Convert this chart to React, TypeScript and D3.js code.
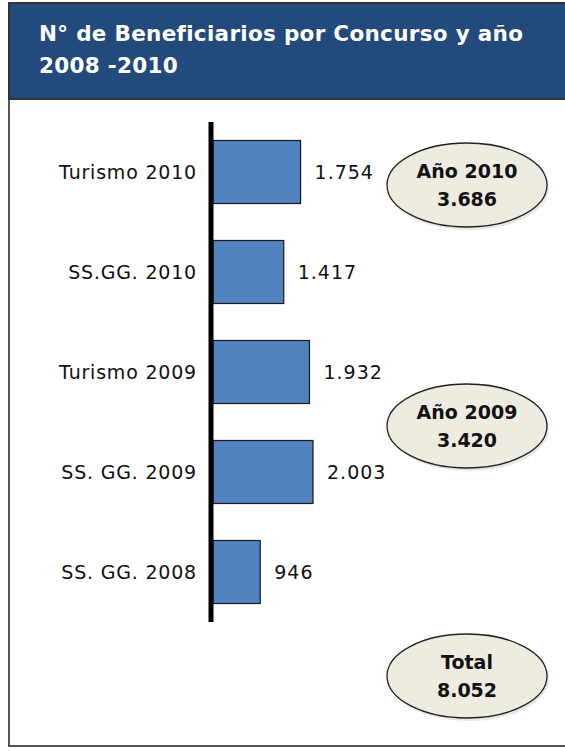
import React, { useRef, useEffect } from 'react';
import * as d3 from 'd3';

const CATEGORIES = ['Turismo 2010', 'SS.GG. 2010', 'Turismo 2009', 'SS. GG. 2009', 'SS. GG. 2008'];
const VALUES = [1754, 1417, 1932, 2003, 946];
const LABELS = ['1.754', '1.417', '1.932', '2.003', '946'];

const BUBBLE_TITLES = ['Año 2010', 'Año 2009', 'Total'];
const BUBBLE_VALUES = ['3.686', '3.420', '8.052'];

const W = 565;
const H = 751;
const FONT = 'DejaVu Sans, sans-serif';

const App: React.FC = () => {
  const svgRef = useRef<SVGSVGElement>(null);

  useEffect(() => {
    if (!svgRef.current) return;
    const svg = d3.select(svgRef.current);
    svg.selectAll('*').remove();

    // Frame
    svg.append('rect')
      .attr('x', 9).attr('y', 3).attr('width', W).attr('height', 743)
      .attr('fill', '#fff').attr('stroke', '#555').attr('stroke-width', 2);

    // Header
    svg.append('rect')
      .attr('x', 9).attr('y', 3).attr('width', W).attr('height', 96)
      .attr('fill', '#234a7c').attr('stroke', '#333').attr('stroke-width', 2);

    const title = svg.append('text')
      .attr('fill', '#fff')
      .attr('font-family', FONT)
      .attr('font-weight', 'bold')
      .attr('font-size', '21.5px')
      .attr('letter-spacing', '0.3px');
    title.append('tspan').attr('x', 39).attr('y', 41).text('N° de Beneficiarios por Concurso y año');
    title.append('tspan').attr('x', 39).attr('y', 73).text('2008 -2010');

    const x0 = 213;
    const x = d3.scaleLinear().domain([0, 2003]).range([x0, 313]);
    const y = d3.scaleBand().domain(CATEGORIES).range([122, 622]).paddingInner(0.37).paddingOuter(0.185);

    // Bars
    svg.selectAll('.bar')
      .data(VALUES)
      .join('rect')
      .attr('class', 'bar')
      .attr('x', x(0))
      .attr('y', (d, i) => y(CATEGORIES[i])!)
      .attr('width', d => x(d) - x(0))
      .attr('height', y.bandwidth())
      .attr('fill', '#4f81bd')
      .attr('stroke', '#1a1a1a')
      .attr('stroke-width', 1.2);

    // Axis line
    svg.append('line')
      .attr('x1', x0 - 2).attr('x2', x0 - 2)
      .attr('y1', 122).attr('y2', 622)
      .attr('stroke', '#000').attr('stroke-width', 5);

    // Category labels
    svg.selectAll('.cat')
      .data(CATEGORIES)
      .join('text')
      .attr('x', 197)
      .attr('y', d => y(d)! + y.bandwidth() / 2 + 7)
      .attr('text-anchor', 'end')
      .attr('font-family', FONT)
      .attr('font-size', '19px')
      .attr('letter-spacing', '0.8px')
      .attr('fill', '#111')
      .text(d => d);

    // Value labels
    svg.selectAll('.val')
      .data(VALUES)
      .join('text')
      .attr('x', d => x(d) + 14)
      .attr('y', (d, i) => y(CATEGORIES[i])! + y.bandwidth() / 2 + 7)
      .attr('font-family', FONT)
      .attr('font-size', '19px')
      .attr('letter-spacing', '1px')
      .attr('fill', '#111')
      .text((d, i) => LABELS[i]);

    // Summary bubbles
    const cy = [185, 426, 676];
    const bubbles = svg.selectAll('.bubble')
      .data(BUBBLE_TITLES)
      .join('g')
      .attr('transform', (d, i) => `translate(467,${cy[i]})`);
    bubbles.append('ellipse')
      .attr('cx', 2).attr('cy', 3).attr('rx', 80).attr('ry', 42)
      .attr('fill', '#d8d8d0').attr('opacity', 0.6);
    bubbles.append('ellipse')
      .attr('rx', 80).attr('ry', 42)
      .attr('fill', '#eeece1').attr('stroke', '#222').attr('stroke-width', 1.3);
    bubbles.append('text')
      .attr('y', -7).attr('text-anchor', 'middle')
      .attr('font-family', FONT).attr('font-weight', 'bold').attr('font-size', '19px')
      .attr('fill', '#111')
      .text(d => d);
    bubbles.append('text')
      .attr('y', 21).attr('text-anchor', 'middle')
      .attr('font-family', FONT).attr('font-weight', 'bold').attr('font-size', '19px')
      .attr('fill', '#111')
      .text((d, i) => BUBBLE_VALUES[i]);
  }, []);

  return (
    <svg ref={svgRef} width={W} height={H} style={{ position: 'absolute', left: 0, top: 0 }} />
  );
};

export default App;
